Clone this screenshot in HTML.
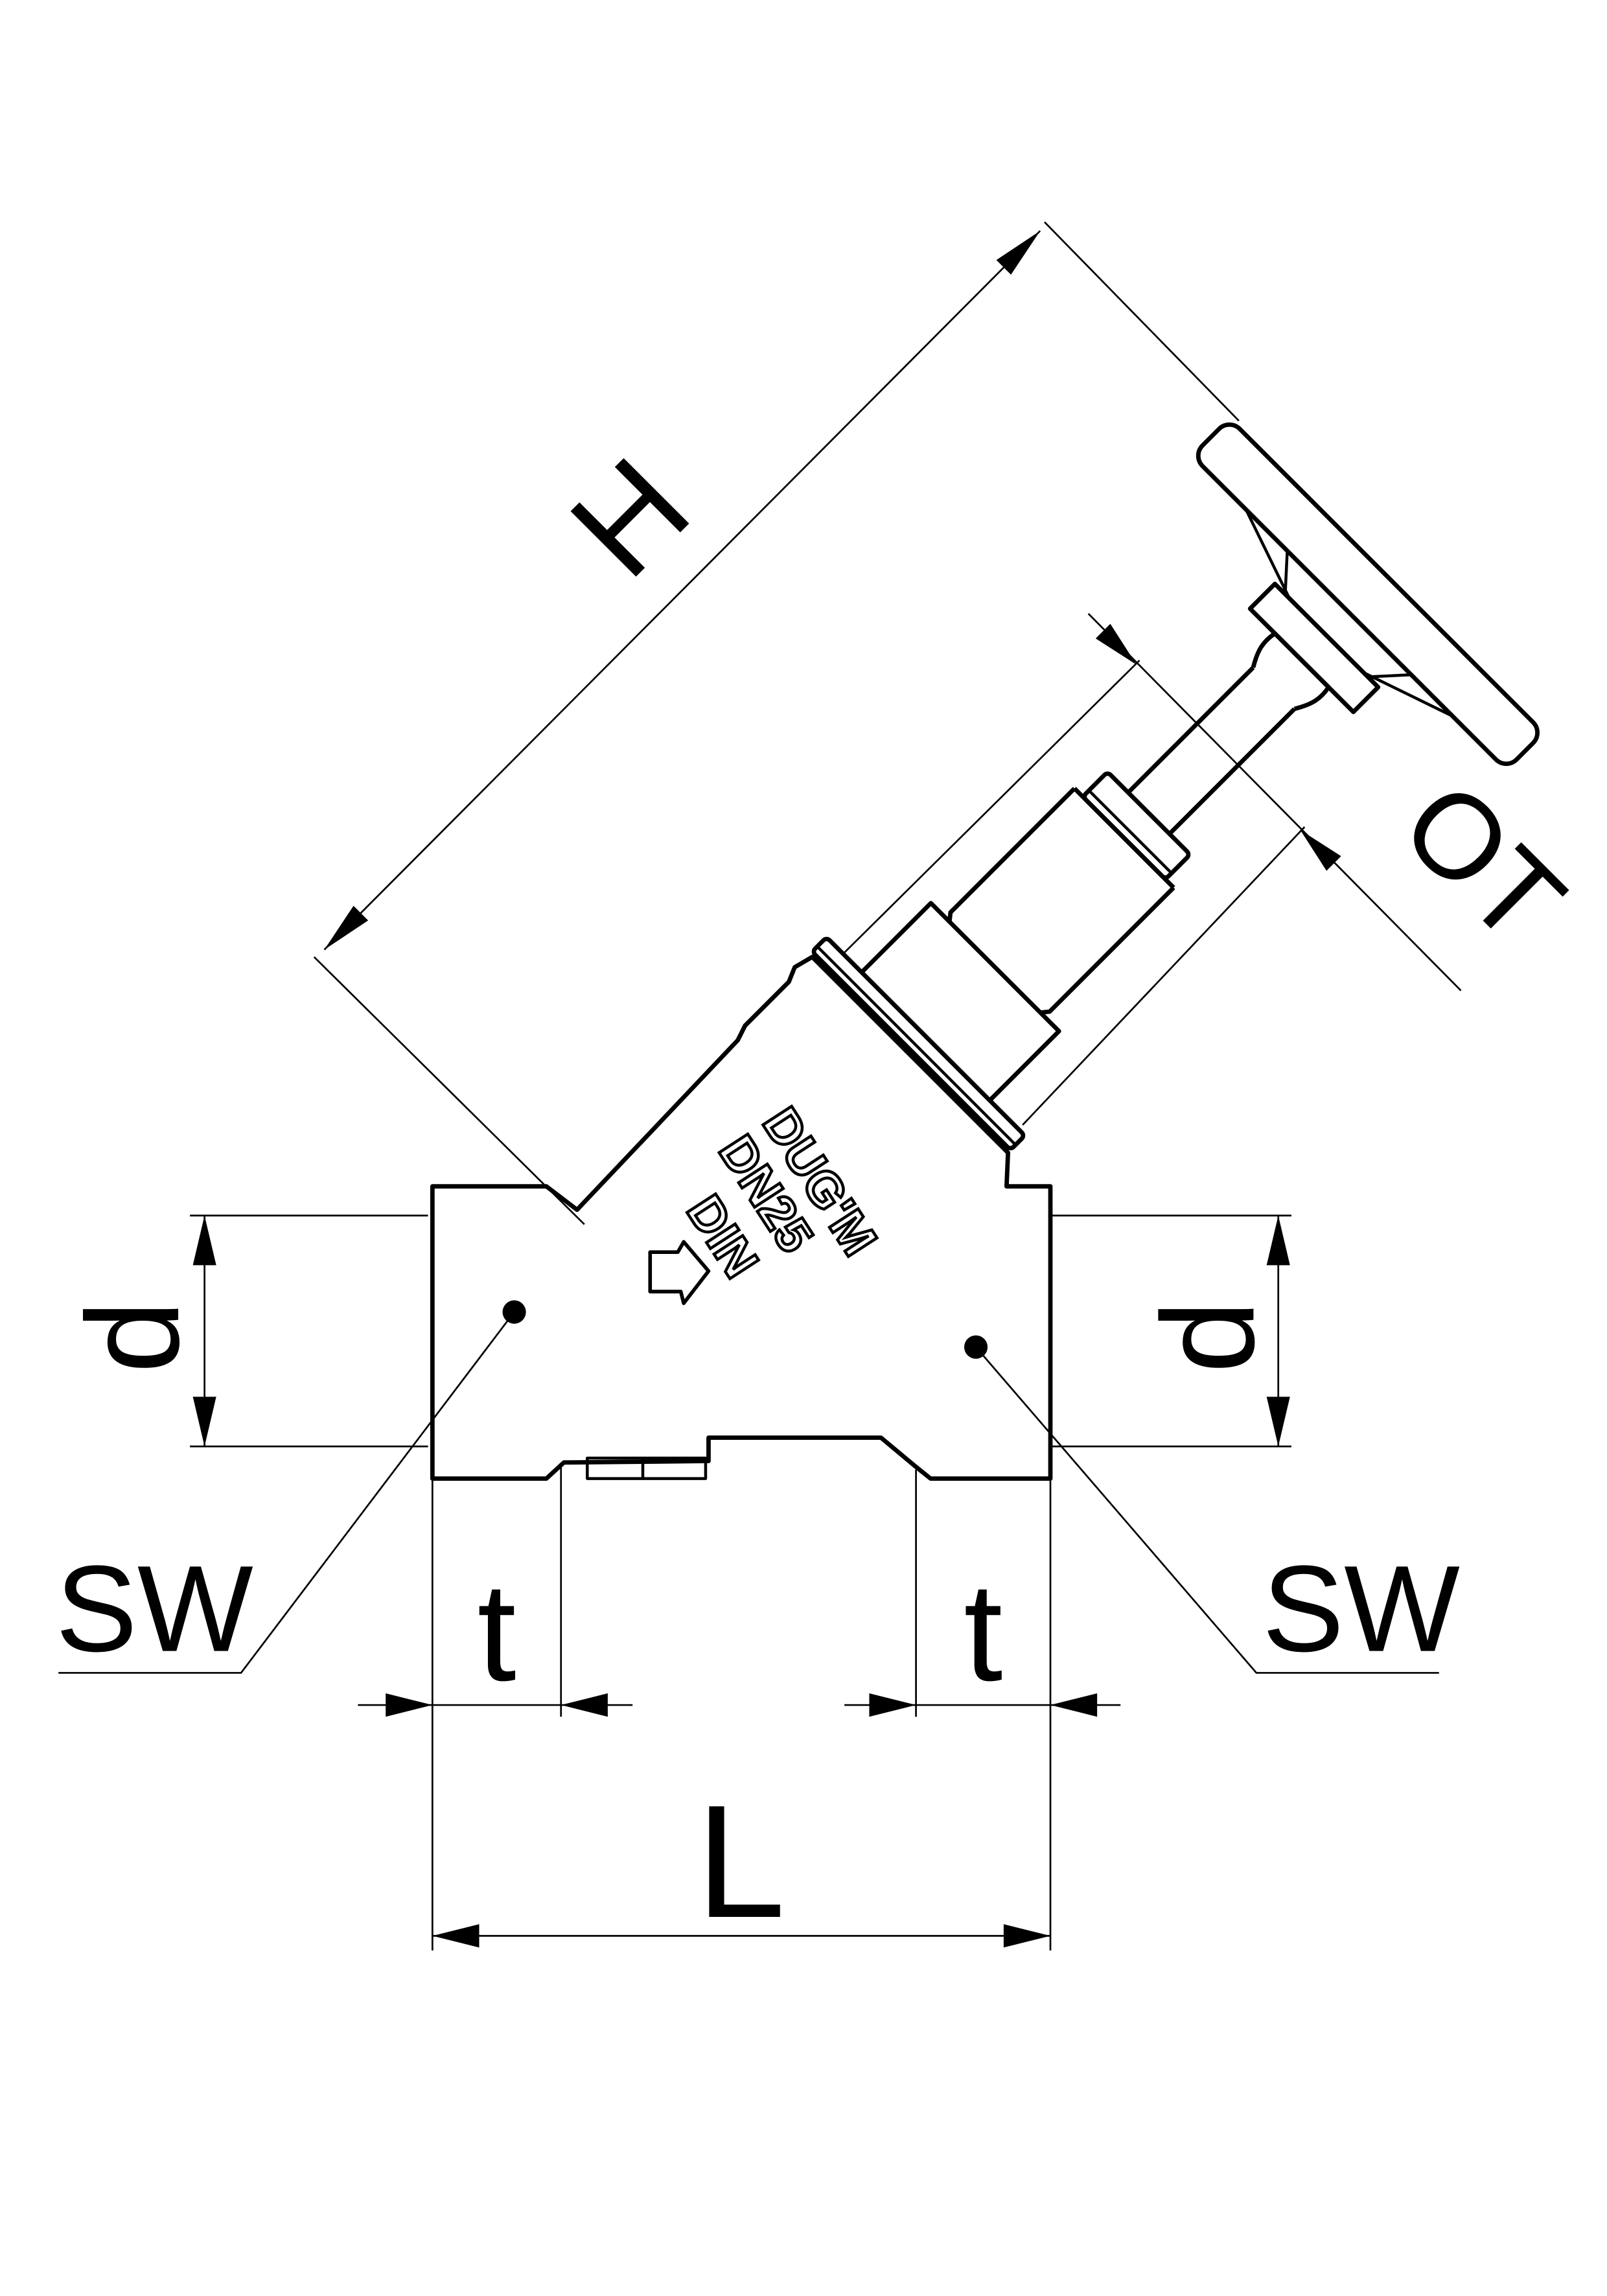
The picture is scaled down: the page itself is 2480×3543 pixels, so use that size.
<!DOCTYPE html>
<html><head><meta charset="utf-8"><style>html,body{margin:0;padding:0;background:#fff}svg{display:block}</style></head>
<body>
<svg width="2480" height="3543" viewBox="0 0 1100 1571.5" xmlns="http://www.w3.org/2000/svg" font-family="Liberation Sans, sans-serif">
<rect width="1100" height="1571.5" fill="#fff"/>
<g fill="none" stroke="#000" stroke-width="1.2">
  <line x1="215" y1="655" x2="400" y2="838"/>
  <line x1="715" y1="152" x2="848" y2="288"/>
  <line x1="222" y1="650" x2="712" y2="158"/>
  <line x1="745" y1="420" x2="1000" y2="678"/>
  <line x1="578" y1="652" x2="780" y2="452"/>
  <line x1="700" y1="770" x2="893" y2="566"/>
  <line x1="130" y1="832" x2="293" y2="832"/>
  <line x1="130" y1="990" x2="293" y2="990"/>
  <line x1="140" y1="832" x2="140" y2="990"/>
  <line x1="719" y1="832" x2="884" y2="832"/>
  <line x1="719" y1="990" x2="884" y2="990"/>
  <line x1="875" y1="832" x2="875" y2="990"/>
  <line x1="296" y1="1012" x2="296" y2="1335"/>
  <line x1="719" y1="1012" x2="719" y2="1335"/>
  <line x1="384" y1="1003" x2="384" y2="1175"/>
  <line x1="627" y1="1006" x2="627" y2="1175"/>
  <line x1="245" y1="1167" x2="433" y2="1167"/>
  <line x1="578" y1="1167" x2="767" y2="1167"/>
  <line x1="296" y1="1325" x2="719" y2="1325"/>
  <polyline points="352,898 165,1145 40,1145"/>
  <polyline points="668,922 860,1145 985,1145"/>
</g>
<g fill="#000">
  <polygon points="712,158 692,188 682,178"/>
  <polygon points="222,650 242,620 252,630"/>
  <polygon points="778,455 750,437 760,427"/>
  <polygon points="890,568 918,586 908,596"/>
  <polygon points="140,832 132,866 148,866"/>
  <polygon points="140,990 132,956 148,956"/>
  <polygon points="875,832 867,866 883,866"/>
  <polygon points="875,990 867,956 883,956"/>
  <polygon points="296,1167 264,1159 264,1175"/>
  <polygon points="384,1167 416,1159 416,1175"/>
  <polygon points="627,1167 595,1159 595,1175"/>
  <polygon points="719,1167 751,1159 751,1175"/>
  <polygon points="296,1325 328,1317 328,1333"/>
  <polygon points="719,1325 687,1317 687,1333"/>
  <circle cx="352" cy="898" r="8"/>
  <circle cx="668" cy="922" r="8"/>
</g>
<g fill="none" stroke="#000" stroke-width="3" stroke-linejoin="round">
  <path d="M296,812 L374,812 L395,828 L505,712 L510,702 L540,672 L544,662 L556,655 L690,789 L689,812 L719,812 L719,1012 L637,1012 L627,1004 L603,984 L485,984 L485,1000 L386,1001 L374,1012 L296,1012 Z"/>
  <path d="M402,998 L483,998 L483,1012 L402,1012 Z M440,998 L440,1012" stroke-width="2"/>
  <g transform="translate(628,715) rotate(-45)">
    <rect x="-6" y="-96" width="14" height="192" rx="3" fill="#fff"/>
    <line x1="-1" y1="-96" x2="-1" y2="96" stroke-width="2"/>
    <path d="M8,-62 L75,-62 L75,62 L8,62"/>
    <path d="M75,-44 L80,-48 L200,-48 M75,44 L80,48 L200,48 M200,-48 L200,48"/>
    <rect x="200" y="-40" width="24" height="80" rx="3"/>
    <line x1="206" y1="-40" x2="206" y2="40" stroke-width="2"/>
    <path d="M224,-20 L345,-20 M224,20 L345,20"/>
    <path d="M345,-20 C355,-26 362,-28 372,-26 L372,26 C362,28 355,26 345,20"/>
    <path d="M372,-50 L396,-50 L396,50 L372,50 Z"/>
    <path d="M396,-36 L418,-100 M396,36 L418,100 M396,-40 L418,-60 M396,40 L418,60" stroke-width="2"/>
    <rect x="418" y="-152" width="36" height="304" rx="10"/>
  </g>
</g>
<g font-weight="bold" font-size="34" fill="#fff" stroke="#000" stroke-width="2">
  <text transform="translate(521,768) rotate(57)">DUG'M</text>
  <text transform="translate(491,787) rotate(57)">DN25</text>
  <text transform="translate(469,828) rotate(57)">DIN</text>
</g>
<path d="M445,857 L464,857 L468,850 L485,870 L468,892 L466,884 L445,884 Z" fill="none" stroke="#000" stroke-width="2.5" stroke-linejoin="round"/>
<g fill="#000">
  <text font-size="92" transform="translate(430,400) rotate(-45)">H</text>
  <text font-size="82" transform="translate(955,570) rotate(45)">OT</text>
  <text font-size="90" transform="translate(122,915) rotate(-90)" text-anchor="middle">d</text>
  <text font-size="90" transform="translate(858,915) rotate(-90)" text-anchor="middle">d</text>
  <text font-size="84" x="38" y="1130">SW</text>
  <text font-size="84" x="864" y="1130">SW</text>
  <text font-size="96" x="340" y="1150" text-anchor="middle">t</text>
  <text font-size="96" x="673" y="1150" text-anchor="middle">t</text>
  <text font-size="110" x="507" y="1312" text-anchor="middle">L</text>
</g>
</svg>
</body></html>
